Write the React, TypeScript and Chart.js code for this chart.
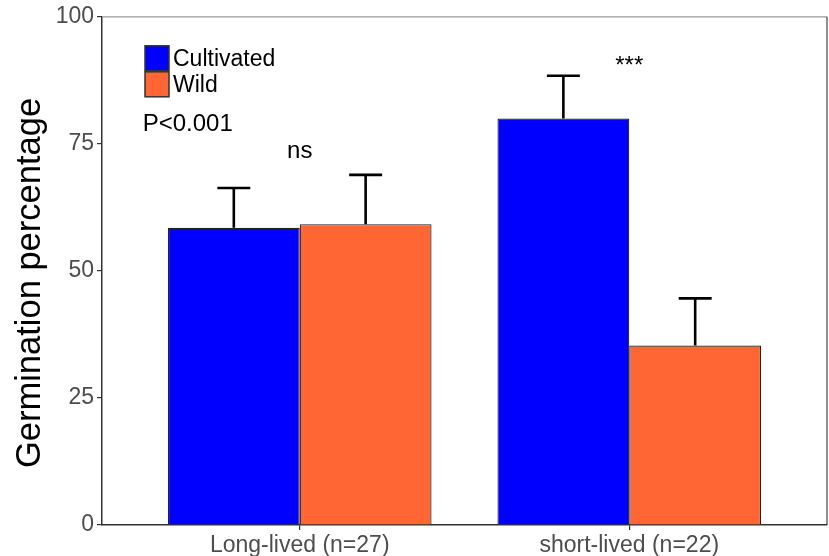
import React, { useEffect, useRef } from "react";
import { Chart, registerables } from "chart.js";

Chart.register(...registerables);

// Groups along the x axis (placed at x = 1, 2)
const categories: string[] = ["Long-lived (n=27)", "short-lived (n=22)"];
const groupPositions: number[] = [1, 2];

// Mean germination percentage and standard error per group
const cultivatedMeans: number[] = [58.5, 80.0];
const cultivatedErrors: number[] = [7.8, 8.4];
const wildMeans: number[] = [59.2, 35.3];
const wildErrors: number[] = [9.7, 9.3];

const seriesNames: string[] = ["Cultivated", "Wild"];
const yTicks: number[] = [0, 25, 50, 75, 100];
const yTitle = "Germination percentage";

// Significance labels: [x, y, text]
const significance: [number, number, string][] = [
  [1, 73.5, "ns"],
  [2, 90.2, "***"],
];
const pValueLabel = { x: 0.66, y: 78.8, text: "P<0.001" };

const FONT = "'Liberation Sans', Arial, Helvetica, sans-serif";
const BLUE = "#0000FF";
const ORANGE = "#FF6633";

const errorBarPlugin = {
  id: "errorBars",
  afterDatasetsDraw(chart: any) {
    const ctx = chart.ctx;
    const yScale = chart.scales.y;
    ctx.save();
    ctx.strokeStyle = "#000";
    ctx.lineWidth = 2.6;
    chart.data.datasets.forEach((ds: any, di: number) => {
      const meta = chart.getDatasetMeta(di);
      meta.data.forEach((bar: any, i: number) => {
        const v = ds.data[i].y;
        const e = ds.errors[i];
        const x = bar.x;
        const yTop = yScale.getPixelForValue(v + e);
        const yBase = yScale.getPixelForValue(v);
        const cap = bar.width * 0.125;
        ctx.beginPath();
        ctx.moveTo(x, yBase);
        ctx.lineTo(x, yTop);
        ctx.moveTo(x - cap, yTop);
        ctx.lineTo(x + cap, yTop);
        ctx.stroke();
      });
    });
    ctx.restore();
  },
};

const decorPlugin = {
  id: "decor",
  afterDraw(chart: any) {
    const ctx = chart.ctx;
    const { left, right, top, bottom } = chart.chartArea;
    const xs = chart.scales.x;
    const ys = chart.scales.y;
    ctx.save();

    // panel frame: top and right edges
    ctx.lineWidth = 1.2;
    ctx.strokeStyle = "#999999";
    ctx.beginPath();
    ctx.moveTo(left, top);
    ctx.lineTo(right, top);
    ctx.stroke();
    ctx.strokeStyle = "#444444";
    ctx.beginPath();
    ctx.moveTo(right, top);
    ctx.lineTo(right, bottom);
    ctx.stroke();

    // y axis title
    ctx.save();
    ctx.translate(30, 283);
    ctx.rotate(-Math.PI / 2);
    ctx.fillStyle = "#000";
    ctx.textAlign = "center";
    ctx.textBaseline = "middle";
    ctx.font = `34.5px ${FONT}`;
    ctx.fillText(yTitle, 0, 0);
    ctx.restore();

    // significance markers
    ctx.fillStyle = "#000";
    ctx.textAlign = "center";
    ctx.textBaseline = "middle";
    ctx.font = `24px ${FONT}`;
    significance.forEach(([x, y, t]) => {
      ctx.fillText(t, xs.getPixelForValue(x), ys.getPixelForValue(y));
    });
    ctx.fillText(
      pValueLabel.text,
      xs.getPixelForValue(pValueLabel.x),
      ys.getPixelForValue(pValueLabel.y)
    );

    // legend
    const lx = left + 43;
    const ly = top + 29;
    const bw = 24;
    const bh = 25;
    ctx.font = `23px ${FONT}`;
    ctx.textAlign = "left";
    chart.data.datasets.forEach((ds: any, i: number) => {
      const by = ly + i * (bh + 1);
      ctx.fillStyle = ds.backgroundColor;
      ctx.fillRect(lx, by, bw, bh);
      ctx.strokeStyle = "#333333";
      ctx.lineWidth = 1.5;
      ctx.strokeRect(lx, by, bw, bh);
      ctx.fillStyle = "#000";
      ctx.fillText(ds.label, lx + bw + 4, by + bh / 2 + 1.5);
    });
    ctx.restore();
  },
};

export default function App() {
  const canvasRef = useRef<HTMLCanvasElement | null>(null);

  useEffect(() => {
    if (!canvasRef.current) return;
    const chart = new Chart(canvasRef.current, {
      type: "bar",
      data: {
        datasets: [
          {
            label: seriesNames[0],
            data: groupPositions.map((x, i) => ({ x, y: cultivatedMeans[i] })),
            errors: cultivatedErrors,
            backgroundColor: BLUE,
            borderColor: "#222222",
            borderWidth: 1.2,
          } as any,
          {
            label: seriesNames[1],
            data: groupPositions.map((x, i) => ({ x, y: wildMeans[i] })),
            errors: wildErrors,
            backgroundColor: ORANGE,
            borderColor: "#222222",
            borderWidth: 1.2,
          } as any,
        ],
      },
      options: {
        responsive: false,
        animation: false,
        devicePixelRatio: 1,
        layout: { padding: { left: 0, right: 2, top: 16, bottom: 0 } },
        datasets: {
          bar: { categoryPercentage: 0.8, barPercentage: 1.0 },
        },
        plugins: {
          legend: { display: false },
          tooltip: { enabled: false },
        },
        scales: {
          x: {
            type: "linear",
            min: 0.4,
            max: 2.6,
            offset: false,
            afterBuildTicks: (axis: any) => {
              axis.ticks = groupPositions.map((v) => ({ value: v }));
            },
            afterFit: (axis: any) => {
              axis.height = 31;
            },
            grid: {
              offset: false,
              drawOnChartArea: false,
              drawTicks: true,
              tickLength: 5,
              color: "#333333",
              lineWidth: 1.2,
            },
            border: { display: true, color: "#333333", width: 1.5 },
            ticks: {
              autoSkip: false,
              maxRotation: 0,
              padding: 2,
              color: "#4D4D4D",
              font: { family: FONT, size: 23 },
              callback: (v: any) => {
                const i = groupPositions.indexOf(Number(v));
                return i >= 0 ? categories[i] : "";
              },
            },
          },
          y: {
            min: 0,
            max: 100,
            afterBuildTicks: (axis: any) => {
              axis.ticks = yTicks.map((v) => ({ value: v }));
            },
            afterFit: (axis: any) => {
              axis.width = 102;
            },
            grid: {
              drawOnChartArea: false,
              drawTicks: true,
              tickLength: 5,
              color: "#333333",
              lineWidth: 1.2,
            },
            border: { display: true, color: "#333333", width: 1.5 },
            ticks: {
              padding: 3,
              color: "#4D4D4D",
              font: { family: FONT, size: 23 },
            },
          },
        },
      } as any,
      plugins: [errorBarPlugin, decorPlugin],
    });
    return () => chart.destroy();
  }, []);

  return (
    <div
      style={{
        position: "absolute",
        left: 0,
        top: 0,
        width: 829,
        height: 556,
        background: "#fff",
      }}
    >
      <canvas ref={canvasRef} width={829} height={556} />
    </div>
  );
}
